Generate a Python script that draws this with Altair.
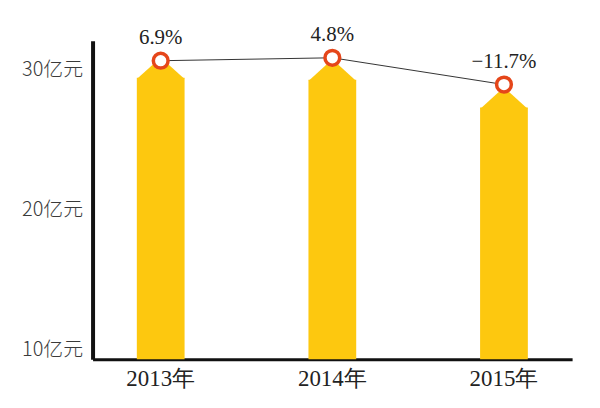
import altair as alt
import pandas as pd

years = ["2013年", "2014年", "2015年"]
bar_tops = [29.43, 29.29, 27.30]      # top of bar body (亿元 scale units)
point_values = [30.64, 30.85, 28.94]  # line/marker values
growth_labels = ["6.9%", "4.8%", "−11.7%"]
y_ticks = [10, 20, 30]

SERIF = "Liberation Serif"

df = pd.DataFrame({
    "year": years,
    "bar": bar_tops,
    "pt": point_values,
    "label": growth_labels,
})

x = alt.X(
    "year:N",
    sort=years,
    scale=alt.Scale(paddingInner=0.4, paddingOuter=0.097),
    axis=alt.Axis(
        title=None, labelAngle=0, ticks=False, domainColor="#111111",
        domainWidth=3, labelFont=SERIF, labelFontSize=23,
        labelColor="#222222", labelPadding=8, grid=False,
    ),
)
yscale = alt.Scale(domain=[9.33, 32.06], nice=False, zero=False)
yaxis = alt.Axis(
    title=None, values=y_ticks, labelExpr="datum.value + '亿元'", ticks=False,
    grid=False, domainColor="#111111", domainWidth=4,
    labelFont="Noto Sans CJK SC", labelFontSize=20, labelColor="#3a3a3a",
    labelPadding=10, labelFontWeight=300,
)

base = alt.Chart(df)

bars = base.mark_bar(size=48, color="#FDC80F").encode(
    x=x, y=alt.Y("bar:Q", scale=yscale, axis=yaxis), y2=alt.datum(9.33)
)
caps = base.mark_point(
    shape="M-1,0.06L0,-0.85L1,0.06Z", size=2304, filled=True,
    color="#FDC80F", opacity=1, strokeWidth=0,
).encode(x=x, y=alt.Y("bar:Q", scale=yscale))
line = base.mark_line(color="#333333", strokeWidth=1).encode(
    x=x, y=alt.Y("pt:Q", scale=yscale)
)
pts = base.mark_point(
    shape="circle", size=220, filled=False, fill="white", fillOpacity=1,
    stroke="#E5461A", strokeWidth=3.5, opacity=1,
).encode(x=x, y=alt.Y("pt:Q", scale=yscale))
txt = base.mark_text(
    font=SERIF, fontSize=21, color="#222222", dy=-17,
    baseline="alphabetic", align="center",
).encode(x=x, y=alt.Y("pt:Q", scale=yscale), text="label:N")

chart = alt.layer(bars, caps, line, pts, txt).properties(
    width=482, height=320,
    background="white",
    autosize=alt.AutoSizeParams(type="none"),
    padding={"left": 85, "top": 32, "right": 20, "bottom": 40},
).configure_view(stroke=None, strokeWidth=0)

chart.save("out.html", embed_options={"renderer": "svg", "actions": False})
